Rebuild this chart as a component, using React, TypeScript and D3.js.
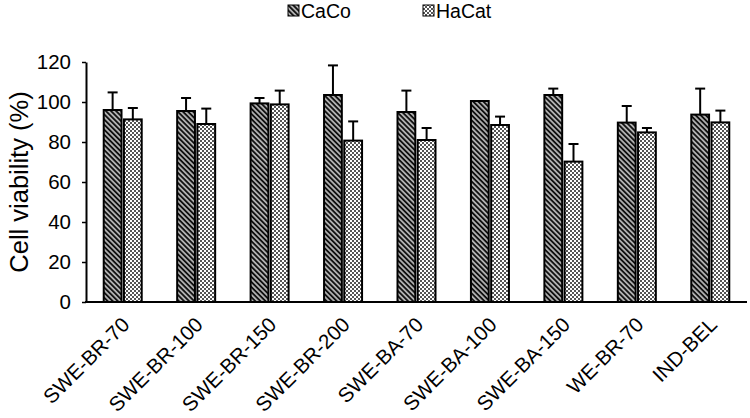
import React, { useEffect, useRef } from 'react';
import * as d3 from 'd3';

const categories: string[] = [
  'SWE-BR-70',
  'SWE-BR-100',
  'SWE-BR-150',
  'SWE-BR-200',
  'SWE-BA-70',
  'SWE-BA-100',
  'SWE-BA-150',
  'WE-BR-70',
  'IND-BEL',
];
const seriesNames: string[] = ['CaCo', 'HaCat'];

const cacoMean: number[] = [96, 95.5, 99.3, 103.5, 95, 100.5, 103.5, 89.7, 93.7];
const cacoSd: number[] = [8.8, 6.5, 2.7, 14.8, 10.7, 0, 3.2, 8.3, 13];
const hacatMean: number[] = [91.3, 89, 98.8, 80.7, 81, 88.5, 70.2, 84.8, 89.8];
const hacatSd: number[] = [5.7, 7.7, 6.9, 9.6, 6, 4.2, 8.8, 2.2, 5.9];

const yTicks: number[] = [0, 20, 40, 60, 80, 100, 120];

interface Bar {
  category: string;
  series: string;
  mean: number;
  sd: number;
}

const CellViabilityChart: React.FC = () => {
  const svgRef = useRef<SVGSVGElement>(null);

  useEffect(() => {
    if (!svgRef.current) return;

    const width = 750;
    const height = 418;
    const left = 86;
    const right = 747;
    const bottom = 302;
    const top = 62;
    const font = 'Arial, "Liberation Sans", sans-serif';

    const svg = d3.select(svgRef.current);
    svg.selectAll('*').remove();
    svg.attr('width', width).attr('height', height);

    // fill patterns: dark diagonal hatch and light checkerboard
    const defs = svg.append('defs');
    const hatch = defs
      .append('pattern')
      .attr('id', 'hatch')
      .attr('patternUnits', 'userSpaceOnUse')
      .attr('width', 3.6)
      .attr('height', 3.6)
      .attr('patternTransform', 'rotate(-45)');
    hatch.append('rect').attr('width', 3.6).attr('height', 3.6).attr('fill', '#111');
    hatch
      .append('line')
      .attr('x1', 1.8)
      .attr('x2', 1.8)
      .attr('y1', 0)
      .attr('y2', 3.6)
      .attr('stroke', '#fff')
      .attr('stroke-width', 1.2);

    const checker = defs
      .append('pattern')
      .attr('id', 'checker')
      .attr('patternUnits', 'userSpaceOnUse')
      .attr('width', 4)
      .attr('height', 4);
    checker.append('rect').attr('width', 4).attr('height', 4).attr('fill', '#fff');
    checker.append('rect').attr('width', 2).attr('height', 2).attr('fill', '#555');
    checker.append('rect').attr('x', 2).attr('y', 2).attr('width', 2).attr('height', 2).attr('fill', '#555');

    const fills: Record<string, string> = { CaCo: 'url(#hatch)', HaCat: 'url(#checker)' };

    const x0 = d3.scaleBand<string>().domain(categories).range([left, right]);
    const x1 = d3
      .scaleBand<string>()
      .domain(seriesNames)
      .range([0, 38])
      .paddingInner(0.12);
    const y = d3.scaleLinear().domain([0, 120]).range([bottom, top]);

    const bars: Bar[] = categories.flatMap((c, i) => [
      { category: c, series: 'CaCo', mean: cacoMean[i], sd: cacoSd[i] },
      { category: c, series: 'HaCat', mean: hacatMean[i], sd: hacatSd[i] },
    ]);

    const barX = (d: Bar) => x0(d.category)! + x0.bandwidth() / 2 - 19 + x1(d.series)!;

    // error bars (upper only)
    const err = svg.append('g').attr('stroke', '#000').attr('stroke-width', 2);
    bars
      .filter((d) => d.sd > 0)
      .forEach((d) => {
        const cx = barX(d) + x1.bandwidth() / 2;
        err
          .append('line')
          .attr('x1', cx)
          .attr('x2', cx)
          .attr('y1', y(d.mean))
          .attr('y2', y(d.mean + d.sd));
        err
          .append('line')
          .attr('x1', cx - 5)
          .attr('x2', cx + 5)
          .attr('y1', y(d.mean + d.sd))
          .attr('y2', y(d.mean + d.sd));
      });

    svg
      .append('g')
      .selectAll('rect')
      .data(bars)
      .enter()
      .append('rect')
      .attr('x', barX)
      .attr('y', (d) => y(d.mean))
      .attr('width', x1.bandwidth())
      .attr('height', (d) => y(0) - y(d.mean))
      .attr('fill', (d) => fills[d.series])
      .attr('stroke', '#000')
      .attr('stroke-width', 2);

    // y axis
    const yAxis = svg
      .append('g')
      .attr('transform', `translate(${left},0)`)
      .call(d3.axisLeft(y).tickValues(yTicks).tickSize(4).tickSizeOuter(0).tickPadding(11));
    yAxis.select('.domain').attr('stroke', '#000').attr('stroke-width', 2);
    yAxis.selectAll('.tick line').attr('stroke', '#000').attr('stroke-width', 1.5);
    yAxis
      .selectAll('.tick text')
      .attr('font-family', font)
      .attr('font-size', 20.5)
      .attr('fill', '#000');

    // x axis
    svg
      .append('line')
      .attr('x1', left - 1)
      .attr('x2', right)
      .attr('y1', bottom)
      .attr('y2', bottom)
      .attr('stroke', '#000')
      .attr('stroke-width', 2);

    svg
      .append('g')
      .selectAll('text')
      .data(categories)
      .enter()
      .append('text')
      .attr('transform', (d) => {
        const cx = x0(d)! + x0.bandwidth() / 2 + 8;
        return `translate(${cx},${bottom + 24}) rotate(-45)`;
      })
      .attr('text-anchor', 'end')
      .attr('font-family', font)
      .attr('font-size', 20.5)
      .attr('fill', '#000')
      .text((d) => d);

    svg
      .append('text')
      .attr('transform', `translate(28,${(top + bottom) / 2}) rotate(-90)`)
      .attr('text-anchor', 'middle')
      .attr('font-family', font)
      .attr('font-size', 25.5)
      .attr('fill', '#000')
      .text('Cell viability (%)');

    // legend
    const legendX = [288, 423];
    const legend = svg
      .append('g')
      .selectAll('g')
      .data(seriesNames)
      .enter()
      .append('g')
      .attr('transform', (_d, i) => `translate(${legendX[i]},0)`);
    legend
      .append('rect')
      .attr('y', 5)
      .attr('width', 11)
      .attr('height', 11)
      .attr('fill', (d) => fills[d])
      .attr('stroke', '#000')
      .attr('stroke-width', 1);
    legend
      .append('text')
      .attr('x', 13)
      .attr('y', 18)
      .attr('font-family', font)
      .attr('font-size', 19.5)
      .attr('fill', '#000')
      .text((d) => d);
  }, []);

  return (
    <div style={{ position: 'absolute', left: 0, top: 0 }}>
      <svg ref={svgRef}></svg>
    </div>
  );
};

export default CellViabilityChart;
